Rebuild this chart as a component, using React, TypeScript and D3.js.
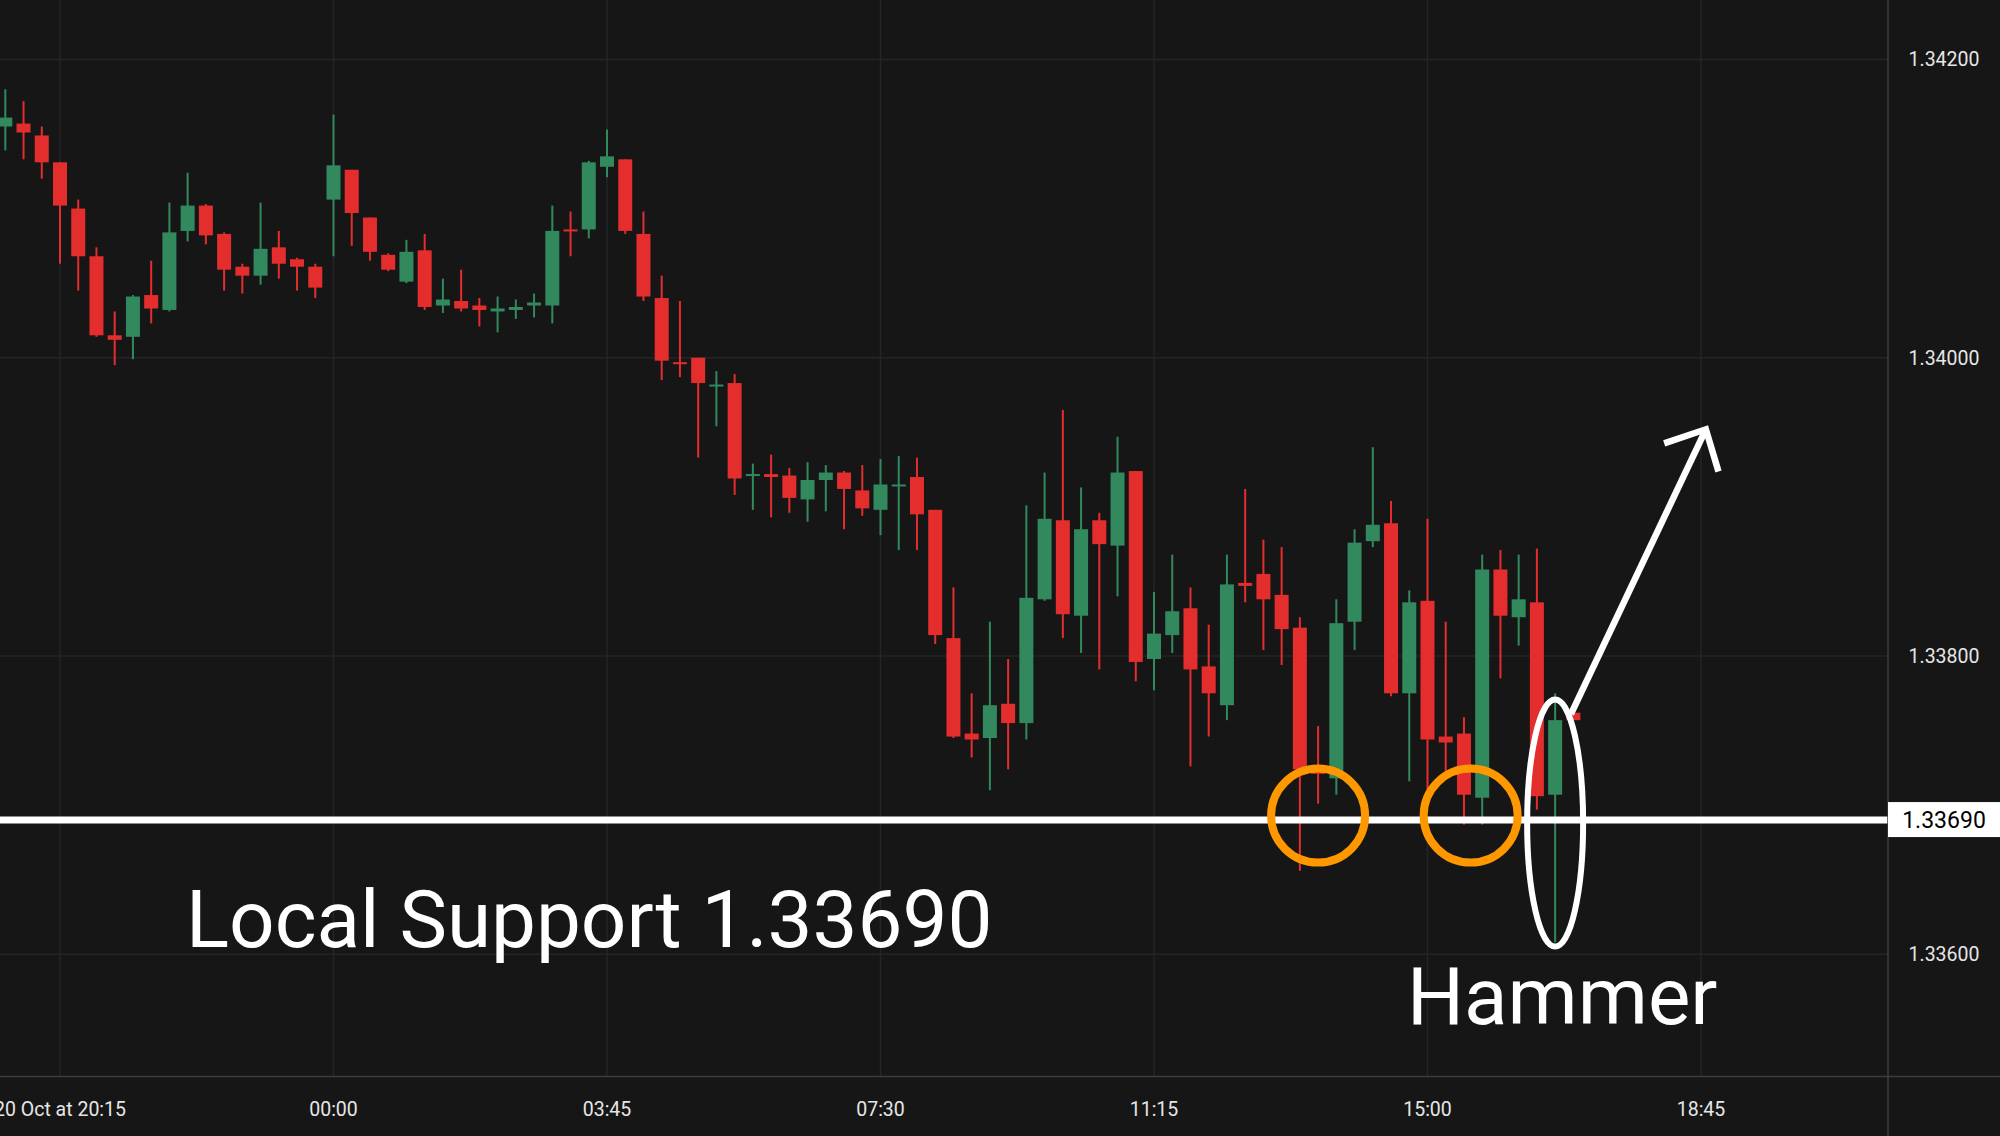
import React from "react";
import * as d3 from "d3";

const W = 2000;
const H = 1136;

// 15-minute candles, first bar 20 Oct 19:30
const startTime = new Date(2025, 9, 20, 19, 30);
const stepMinutes = 15;

const opens = [
  1.34155, 1.34157, 1.34149, 1.34131, 1.341, 1.34068, 1.34015, 1.34014, 1.34042, 1.34032,
  1.34085, 1.34102, 1.34083, 1.34061, 1.34055, 1.34074, 1.34066, 1.34061, 1.34106, 1.34126,
  1.34094, 1.34069, 1.34051, 1.34072, 1.34035, 1.34038, 1.34035, 1.34031, 1.34032, 1.34035,
  1.34035, 1.34086, 1.34086, 1.34128, 1.34133, 1.34083, 1.3404, 1.33997, 1.34, 1.33981,
  1.33983, 1.33921, 1.33922, 1.33921, 1.33905, 1.33918, 1.33923, 1.33911, 1.33898, 1.33914,
  1.3392, 1.33898, 1.33812, 1.33748, 1.33745, 1.33768, 1.33755, 1.33838, 1.33891, 1.33827,
  1.33891, 1.33874, 1.33924, 1.33798, 1.33814, 1.33832, 1.33793, 1.33767, 1.33849, 1.33855,
  1.33841, 1.33819, 1.33723, 1.33718, 1.33823, 1.33877, 1.33889, 1.33775, 1.33837, 1.33746,
  1.33748, 1.33705, 1.33858, 1.33826, 1.33836, 1.33707, 1.33762,
];
const highs = [
  1.3418, 1.34172, 1.34155, 1.34131, 1.34106, 1.34074, 1.34031, 1.34042, 1.34065, 1.34104,
  1.34124, 1.34103, 1.34084, 1.34063, 1.34104, 1.34085, 1.34067, 1.34063, 1.34163, 1.34126,
  1.34094, 1.3407, 1.34079, 1.34083, 1.34053, 1.34059, 1.3404, 1.34041, 1.34039, 1.34043,
  1.34102, 1.34098, 1.34132, 1.34153, 1.34133, 1.34098, 1.34055, 1.34038, 1.34, 1.33991,
  1.33989, 1.33929, 1.33935, 1.33926, 1.3393, 1.33928, 1.33924, 1.33928, 1.33932, 1.33934,
  1.33933, 1.33898, 1.33846, 1.33775, 1.33823, 1.33798, 1.33901, 1.33923, 1.33965, 1.33913,
  1.33896, 1.33947, 1.33924, 1.33843, 1.33868, 1.33846, 1.33821, 1.33868, 1.33912, 1.33878,
  1.33873, 1.33826, 1.33753, 1.33838, 1.33885, 1.3394, 1.33904, 1.33844, 1.33892, 1.33823,
  1.33759, 1.33868, 1.33871, 1.33868, 1.33872, 1.33775, 1.33762,
];
const lows = [
  1.34139, 1.34133, 1.3412, 1.34063, 1.34045, 1.34014, 1.33995, 1.33999, 1.34023, 1.34031,
  1.34078, 1.34076, 1.34045, 1.34043, 1.34049, 1.34053, 1.34045, 1.3404, 1.34068, 1.34075,
  1.34065, 1.34058, 1.3405, 1.34032, 1.3403, 1.34031, 1.34021, 1.34017, 1.34026, 1.34027,
  1.34023, 1.34068, 1.3408, 1.34121, 1.34083, 1.34038, 1.33985, 1.33987, 1.33933, 1.33954,
  1.33908, 1.33898, 1.33893, 1.33896, 1.3389, 1.33897, 1.33885, 1.33894, 1.33881, 1.33871,
  1.33871, 1.33808, 1.33745, 1.33732, 1.3371, 1.33724, 1.33744, 1.33837, 1.33812, 1.33802,
  1.33791, 1.3384, 1.33783, 1.33777, 1.33802, 1.33726, 1.33746, 1.33757, 1.33836, 1.33804,
  1.33794, 1.33656, 1.33701, 1.33707, 1.33804, 1.33873, 1.33773, 1.33716, 1.3371, 1.3372,
  1.33687, 1.33687, 1.33785, 1.33807, 1.33697, 1.33608, 1.33757,
];
const closes = [
  1.34161, 1.34151, 1.34131, 1.34102, 1.34068, 1.34015, 1.34012, 1.34041, 1.34033, 1.34084,
  1.34102, 1.34082, 1.34059, 1.34055, 1.34073, 1.34063, 1.34061, 1.34047, 1.34129, 1.34097,
  1.34071, 1.34059, 1.34071, 1.34034, 1.34039, 1.34033, 1.34032, 1.34033, 1.34034, 1.34037,
  1.34085, 1.34085, 1.34131, 1.34135, 1.34085, 1.34041, 1.33998, 1.33996, 1.33983, 1.33982,
  1.33919, 1.33922, 1.3392, 1.33906, 1.33918, 1.33923, 1.33912, 1.33899, 1.33915, 1.33915,
  1.33895, 1.33814, 1.33746, 1.33744, 1.33767, 1.33755, 1.33839, 1.33892, 1.33828, 1.33885,
  1.33875, 1.33923, 1.33796, 1.33815, 1.3383, 1.33791, 1.33775, 1.33848, 1.33847, 1.33838,
  1.33818, 1.33724, 1.33721, 1.33822, 1.33876, 1.33888, 1.33775, 1.33836, 1.33744, 1.33742,
  1.33707, 1.33858, 1.33827, 1.33838, 1.33706, 1.33757, 1.33757,
];

const priceTicks = [1.336, 1.338, 1.34, 1.342];
const timeTicks = [
  new Date(2025, 9, 20, 20, 15),
  new Date(2025, 9, 21, 0, 0),
  new Date(2025, 9, 21, 3, 45),
  new Date(2025, 9, 21, 7, 30),
  new Date(2025, 9, 21, 11, 15),
  new Date(2025, 9, 21, 15, 0),
  new Date(2025, 9, 21, 18, 45),
];
const timeTickLabels = ["20 Oct at 20:15", "00:00", "03:45", "07:30", "11:15", "15:00", "18:45"];

const supportLevel = 1.3369;
const supportLabel = "Local Support 1.33690";
const hammerLabel = "Hammer";

// annotation anchors (time, price)
const circleAnchors = [
  { t: new Date(2025, 9, 21, 13, 30), p: 1.33693 },
  { t: new Date(2025, 9, 21, 15, 35, 30), p: 1.33693 },
];
const ellipseAnchor = { t: new Date(2025, 9, 21, 16, 45), p: 1.33688 };
const arrowFrom = { t: new Date(2025, 9, 21, 16, 58), p: 1.33761 };
const arrowTo = { t: new Date(2025, 9, 21, 18, 49), p: 1.33952 };

const BG = "#161616";
const GRID = "#252429";
const UP = "#32895e";
const DOWN = "#e42d2d";
const ORANGE = "#ff9800";
const AXIS_LINE = "#3d3d3d";
const TEXT = "#e6e6e6";

export default function App() {
  const plotRight = 1888;
  const plotBottom = 1076;

  const x = d3
    .scaleTime()
    .domain([new Date(2025, 9, 20, 20, 15), new Date(2025, 9, 21, 18, 45)])
    .range([60, 1701]);
  const y = d3.scaleLinear().domain([1.336, 1.342]).range([954.3, 59.4]);

  const candles = opens.map((o, i) => ({
    t: new Date(startTime.getTime() + i * stepMinutes * 60000),
    o,
    h: highs[i],
    l: lows[i],
    c: closes[i],
  }));

  const bodyW = 14;
  const wickW = 2;

  const supY = y(supportLevel);

  // arrow geometry
  const ax0 = x(arrowFrom.t);
  const ay0 = y(arrowFrom.p);
  const ax1 = x(arrowTo.t);
  const ay1 = y(arrowTo.p);
  const len = Math.hypot(ax0 - ax1, ay0 - ay1);
  const bx = (ax0 - ax1) / len;
  const by = (ay0 - ay1) / len;
  const headLen = 44;
  const rot = (a: number) => [bx * Math.cos(a) - by * Math.sin(a), bx * Math.sin(a) + by * Math.cos(a)];
  const [l1x, l1y] = rot((46 * Math.PI) / 180);
  const [l2x, l2y] = rot((-42 * Math.PI) / 180);

  return (
    <svg
      width={W}
      height={H}
      style={{ position: "absolute", left: 0, top: 0, display: "block" }}
      fontFamily="Roboto, 'Noto Sans', sans-serif"
    >
      <defs>
        <clipPath id="plot">
          <rect x={0} y={0} width={plotRight} height={plotBottom} />
        </clipPath>
      </defs>
      <rect x={0} y={0} width={W} height={H} fill={BG} />

      {/* grid */}
      <g clipPath="url(#plot)">
        {timeTicks.map((t, i) => (
          <line key={"vg" + i} x1={x(t)} x2={x(t)} y1={0} y2={plotBottom} stroke={GRID} strokeWidth={1.5} />
        ))}
        {priceTicks.map((p, i) => (
          <line key={"hg" + i} x1={0} x2={plotRight} y1={y(p)} y2={y(p)} stroke={GRID} strokeWidth={1.5} />
        ))}
      </g>

      {/* candles */}
      <g clipPath="url(#plot)">
        {candles.map((d, i) => {
          const cx = x(d.t);
          const up = d.c >= d.o;
          const col = up ? UP : DOWN;
          const top = y(Math.max(d.o, d.c));
          const bot = y(Math.min(d.o, d.c));
          const bh = Math.max(bot - top, 2);
          return (
            <g key={i}>
              <rect x={cx - wickW / 2} y={y(d.h)} width={wickW} height={Math.max(y(d.l) - y(d.h), 1)} fill={col} />
              <rect x={cx - bodyW / 2} y={top} width={bodyW} height={bh} fill={col} />
            </g>
          );
        })}
      </g>

      {/* support line */}
      <line x1={0} x2={plotRight} y1={supY} y2={supY} stroke="#ffffff" strokeWidth={7} />

      {/* annotations */}
      {circleAnchors.map((c, i) => (
        <circle key={"c" + i} cx={x(c.t)} cy={y(c.p)} r={47} fill="none" stroke={ORANGE} strokeWidth={8} />
      ))}
      <ellipse
        cx={x(ellipseAnchor.t)}
        cy={y(ellipseAnchor.p)}
        rx={28}
        ry={123.5}
        fill="none"
        stroke="#ffffff"
        strokeWidth={6}
      />
      <g stroke="#ffffff" strokeWidth={6.5} strokeLinecap="butt" fill="none">
        <line x1={ax0} y1={ay0} x2={ax1} y2={ay1} />
        <polyline
          points={`${ax1 + l1x * headLen},${ay1 + l1y * headLen} ${ax1},${ay1} ${ax1 + l2x * headLen},${ay1 + l2y * headLen}`}
          strokeLinejoin="miter"
        />
      </g>

      <text x={186} y={947} fontSize={80} fill="#ffffff">
        {supportLabel}
      </text>
      <text x={1407} y={1024} fontSize={80} fill="#ffffff">
        {hammerLabel}
      </text>

      {/* axes separators */}
      <line x1={plotRight} x2={plotRight} y1={0} y2={H} stroke={AXIS_LINE} strokeWidth={1.5} />
      <line x1={0} x2={W} y1={plotBottom + 0.5} y2={plotBottom + 0.5} stroke={AXIS_LINE} strokeWidth={1.5} />

      {/* price axis labels */}
      {priceTicks.map((p, i) => (
        <text key={"pl" + i} x={1944} y={y(p) + 7} fontSize={19.5} fill={TEXT} textAnchor="middle">
          {d3.format(".5f")(p)}
        </text>
      ))}
      <rect x={plotRight} y={supY - 18} width={W - plotRight} height={35} fill="#ffffff" />
      <text x={1944} y={supY + 8} fontSize={23} fill="#000000" textAnchor="middle">
        {d3.format(".5f")(supportLevel)}
      </text>

      {/* time axis labels */}
      {timeTicks.map((t, i) => (
        <text key={"tl" + i} x={x(t)} y={1116} fontSize={19.5} fill={TEXT} textAnchor="middle">
          {timeTickLabels[i]}
        </text>
      ))}
    </svg>
  );
}
